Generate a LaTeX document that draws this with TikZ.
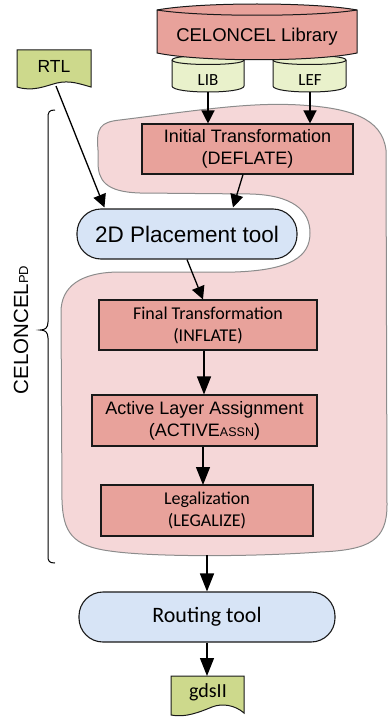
\documentclass[tikz,border=0pt]{standalone}
\usepackage{fontspec}
\setmainfont{Liberation Sans}
\newfontfamily\calib{Carlito}
\usetikzlibrary{arrows.meta,calc}
\definecolor{salmon}{HTML}{E8A29B}
\definecolor{blobpink}{HTML}{F5D7D8}
\definecolor{toolblue}{HTML}{D7E4F6}
\definecolor{cylgreen}{HTML}{E9F1CB}
\definecolor{docgreen}{HTML}{CDD98C}
\begin{document}
\begin{tikzpicture}[x=1pt,y=-1pt,
  procbox/.style={draw=black!90, line width=1.1pt, fill=salmon, inner sep=0pt, align=center},
  toolbox/.style={draw=black!90, line width=1.1pt, fill=toolblue, inner sep=0pt, rounded corners=24pt, align=center},
  plain/.style={inner sep=0pt, align=center},
  arr/.style={line width=1.3pt, -{Triangle[length=18pt,width=14pt]}},
  arrs/.style={line width=1.3pt, -{Triangle[length=13pt,width=13pt]}},
  shapeline/.style={draw=black!90, line width=1pt}]
\useasboundingbox (0,0) rectangle (389,717);

% pink region
\draw[fill=blobpink, draw=black!45, line width=1pt]
  (98,150) .. controls (96,128) and (100,122) .. (120,120)
  .. controls (200,110) and (250,102) .. (300,105)
  .. controls (350,108) and (382,118) .. (386,150)
  -- (387,505)
  .. controls (387,540) and (370,550) .. (320,552)
  .. controls (250,557) and (150,557) .. (110,551)
  .. controls (72,546) and (63,532) .. (62,500)
  -- (61,312)
  .. controls (61,287) and (80,272) .. (120,272)
  -- (235,272)
  .. controls (292,270) and (310,256) .. (310,233)
  .. controls (310,210) and (292,195) .. (250,194)
  -- (140,193)
  .. controls (105,192) and (98,180) .. (98,162)
  -- cycle;

% brace
\draw[line width=1pt] (55,110) .. controls (49,110) and (48,112) .. (48,118)
  -- (48,322) .. controls (48,328) and (45,330) .. (40,330)
  .. controls (45,330) and (48,332) .. (48,338)
  -- (48,556) .. controls (48,561) and (49,563) .. (55,563);
\node[plain, rotate=90, font=\fontsize{20.5}{20.5}\selectfont] (celpd) at (21,330)
  {CELONCEL{\fontsize{13}{13}\selectfont PD}};

% cylinders LIB / LEF
\draw[shapeline, fill=cylgreen] (172,60) -- (172,86) .. controls (172,94) and (244,94) .. (244,86) -- (244,60)
  .. controls (244,54) and (172,54) .. (172,60) -- cycle;
\draw[shapeline] (172,60) .. controls (172,66) and (244,66) .. (244,60);
\draw[shapeline, fill=cylgreen] (273,60) -- (273,86) .. controls (273,94) and (346,94) .. (346,86) -- (346,60)
  .. controls (346,54) and (273,54) .. (273,60) -- cycle;
\draw[shapeline] (273,60) .. controls (273,66) and (346,66) .. (346,60);
\node[plain, font=\calib\fontsize{17}{17}\selectfont] (lib) at (208,80) {LIB};
\node[plain, font=\calib\fontsize{17}{17}\selectfont] (lef) at (310,80) {LEF};

% library
\draw[shapeline, fill=salmon] (157,10) .. controls (200,2) and (314,2) .. (357,10)
  -- (357,53) .. controls (314,62) and (200,62) .. (157,53) -- cycle;
\draw[shapeline] (157,10) .. controls (200,17) and (314,17) .. (357,10);
\node[plain, font=\fontsize{18.5}{18.5}\selectfont] (celib) at (257,37) {CELONCEL Library};

% RTL document
\draw[shapeline, fill=docgreen] (17,50) -- (91,50) -- (91,87)
  .. controls (80,84) and (70,80) .. (57,83)
  .. controls (45,86) and (33,92) .. (17,87) -- cycle;
\node[plain, font=\fontsize{17.5}{17.5}\selectfont] (rtl) at (54,66) {RTL};

% gdsII document
\draw[shapeline, fill=docgreen] (171,676) -- (244,676) -- (244,713)
  .. controls (235,705) and (222,703) .. (212,707)
  .. controls (200,712) and (185,718) .. (171,715) -- cycle;
\node[plain, font=\calib\fontsize{20}{20}\selectfont] (gds) at (208,692) {gdsII};

% process boxes
\node[procbox, minimum width=211pt, minimum height=50pt, font=\fontsize{18}{22}\selectfont] (init) at (247.5,149)
  {Initial Transformation\\(DEFLATE)};
\node[toolbox, minimum width=220pt, minimum height=50pt, font=\fontsize{22.5}{22.5}\selectfont] (place) at (187,234)
  {2D Placement tool};
\node[procbox, minimum width=218pt, minimum height=50pt, font=\calib\fontsize{18}{22}\selectfont] (final) at (208,325)
  {Final Transformation\\(INFLATE)};
\node[procbox, minimum width=225pt, minimum height=51pt, font=\fontsize{18}{22}\selectfont] (actv) at (204.5,420.5)
  {Active Layer Assignment\\(ACTIVE{\fontsize{12.5}{12.5}\selectfont ASSN})};
\node[procbox, minimum width=212pt, minimum height=51pt, font=\calib\fontsize{18}{22}\selectfont] (legl) at (207,510.5)
  {Legalization\\(LEGALIZE)};
\node[toolbox, minimum width=256pt, minimum height=50pt, font=\calib\fontsize{22}{22}\selectfont] (route) at (207,617)
  {Routing tool};
\coordinate (blobbot) at (207,555);
\coordinate (legtop) at (203,485);

% connectors
\draw[arrs] ([yshift=-12pt]lib.center) -- (lib.center |- init.north);
\draw[arrs] ([yshift=-12pt]lef.center) -- (lef.center |- init.north);
\draw[arrs] ([shift={(2pt,-20pt)}]rtl.center) -- ([shift={(28pt,1pt)}]place.north west);
\draw[arrs] ([xshift=-4.5pt]init.south) -- ([shift={(46pt,1pt)}]place.north);
\draw[arrs] (place.south) -- ([xshift=-5pt]final.north);
\draw[arr] ([xshift=-4pt]final.south) -- ([xshift=-4pt]final.south |- actv.north);
\draw[arr] (actv.south -| legtop) -- (legtop);
\draw[arr] (blobbot) -- (route.north);
\draw[arr] (route.south) -- (route.south |- 0,676);
\end{tikzpicture}
\end{document}
